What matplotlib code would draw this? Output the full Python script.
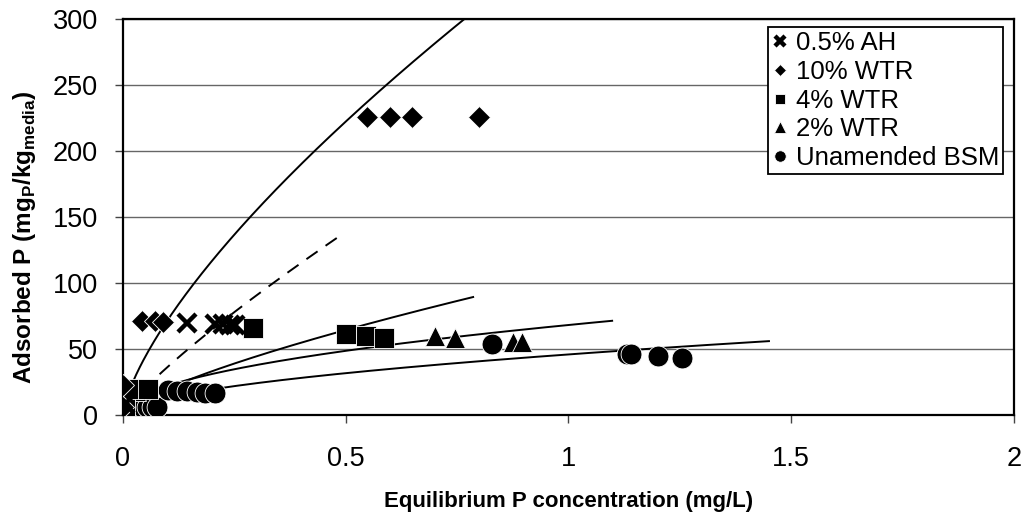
import matplotlib
matplotlib.use('Agg')
import matplotlib.pyplot as plt
import numpy as np

plt.rcParams['font.family'] = ['Liberation Sans', 'DejaVu Sans']
plt.rcParams['mathtext.fontset'] = 'custom'
plt.rcParams['mathtext.rm'] = 'Liberation Sans'
plt.rcParams['mathtext.bf'] = 'Liberation Sans:bold'

# data: equilibrium conc (mg/L) and adsorbed P (mg/kg)
ah_c = [0.005, 0.144, 0.207, 0.224, 0.240, 0.251]
ah_q = [8, 70, 69, 69, 68, 68]

wtr10_c = [0.0, 0.0, 0.043, 0.072, 0.090, 0.548, 0.600, 0.649, 0.800]
wtr10_q = [6, 22.5, 71.5, 71, 70.5, 226, 226, 226, 226]

wtr4_c = [0.005, 0.022, 0.056, 0.292, 0.500, 0.545, 0.585]
wtr4_q = [7, 20, 20, 66, 61, 60, 58]

wtr2_c = [0.005, 0.03, 0.700, 0.745, 0.875, 0.895]
wtr2_q = [6, 18, 59.5, 58.5, 55.5, 55.5]

bsm_c = [0.043, 0.054, 0.065, 0.076, 0.101, 0.121, 0.144, 0.166, 0.184, 0.207,
         0.828, 1.131, 1.140, 1.201, 1.255]
bsm_q = [6, 6, 6, 6, 19, 18.5, 18, 17.5, 17, 16.5,
         53.5, 46, 46, 44.5, 43]

# Freundlich trendlines q = K * C^n, (K, n, C start, C end)
fits = {
    '10% WTR': (361.6, 0.702, 0.01, 0.80, '-'),
    '0.5% AH': (247.0, 0.832, 0.01, 0.483, (0, (7, 5))),
    '4% WTR': (106.4, 0.724, 0.01, 0.786, '-'),
    '2% WTR': (68.2, 0.488, 0.01, 1.098, '-'),
    'BSM': (45.9, 0.534, 0.01, 1.450, '-'),
}

fig = plt.figure(figsize=(10.23, 5.16), dpi=100)
ax = fig.add_axes([0.1202, 0.1957, 0.8710, 0.7675])

for name, (k, n, c0, c1, ls) in fits.items():
    c = np.linspace(c0, c1, 200)
    ax.plot(c, k * c ** n, color='black', lw=1.4, ls=ls, zorder=2)

mk = dict(linestyle='none', color='black', markeredgecolor='white',
          markeredgewidth=0.6, zorder=3)
ax.plot(bsm_c, bsm_q, marker='o', ms=15, label='Unamended BSM', **mk)
ax.plot(wtr2_c, wtr2_q, marker='^', ms=15, label='2% WTR', **mk)
ax.plot(wtr4_c, wtr4_q, marker='s', ms=14, label='4% WTR', **mk)
ax.plot(wtr10_c, wtr10_q, marker='D', ms=11, label='10% WTR', **mk)
ax.plot(ah_c, ah_q, marker='x', ms=13, linestyle='none', color='black',
        markeredgewidth=3.2, label='0.5% AH', zorder=3)

ax.set_xlim(0, 2)
ax.set_ylim(0, 300)
ax.set_xticks([0, 0.5, 1, 1.5, 2])
ax.set_xticklabels(['0', '0.5', '1', '1.5', '2'])
ax.set_yticks(range(0, 301, 50))
ax.yaxis.grid(True, color='#666666', lw=1.0)
ax.set_axisbelow(True)
for s in ax.spines.values():
    s.set_linewidth(1.6)
    s.set_color('black')
ax.tick_params(direction='out', length=6, width=1, labelsize=19.5,
               color='#444444')
ax.tick_params(axis='y', pad=12)
ax.tick_params(axis='x', pad=16)

ax.set_xlabel('Equilibrium P concentration (mg/L)', fontsize=16,
              fontweight='bold', labelpad=14)
ax.set_ylabel(r'Adsorbed P (mg$_{\mathbf{P}}$/kg$_{\mathbf{media}}$)',
              fontsize=17.5, fontweight='bold')
ax.yaxis.set_label_coords(-0.095, 0.45)

h, l = ax.get_legend_handles_labels()
order = [4, 3, 2, 1, 0]
leg = ax.legend([h[i] for i in order], [l[i] for i in order],
                loc='upper right', bbox_to_anchor=(0.9877, 0.980),
                borderaxespad=0, fontsize=18.5, markerscale=0.55,
                handlelength=0.7, handletextpad=0.25, labelspacing=0.19,
                borderpad=0.15, fancybox=False, framealpha=1,
                edgecolor='black')
leg.get_frame().set_linewidth(1.3)

fig.savefig('out.png', dpi=100)
